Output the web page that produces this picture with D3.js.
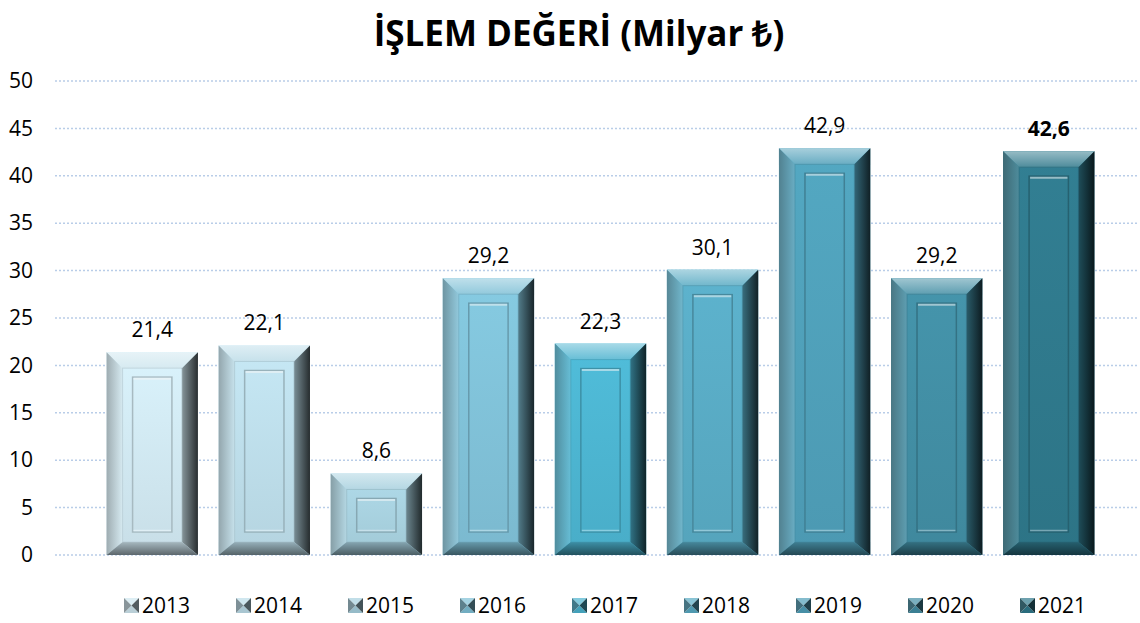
<!DOCTYPE html>
<html><head><meta charset="utf-8">
<script src="https://cdn.jsdelivr.net/npm/d3@7"></script>
<style>body{margin:0;background:#fff}svg{display:block}</style>
</head><body><svg id="c" width="1140" height="623"></svg>
<script>
const years = ["2013","2014","2015","2016","2017","2018","2019","2020","2021"];
const values = [21.4,22.1,8.6,29.2,22.3,30.1,42.9,29.2,42.6];
const labels = ["21,4","22,1","8,6","29,2","22,3","30,1","42,9","29,2","42,6"];
const colors = ["#cfe6ef","#bcdce8","#a7d0de","#7fc0d6","#4cb3cf","#58aac3","#4f9fb8","#418da3","#2f788b"];
const yTicks = [0,5,10,15,20,25,30,35,40,45,50];
const title = "İŞLEM DEĞERİ (Milyar ₺)";
const font = "'Open Sans', sans-serif";

const svg = d3.select("#c");
const defs = svg.append("defs");
const x = d3.scaleBand().domain(years).range([96.5,1104.5]).paddingInner(0.185).paddingOuter(0.09);
const y = d3.scaleLinear().domain([0,50]).range([555,81]);

svg.append("text").attr("x",579).attr("y",46).attr("text-anchor","middle")
  .attr("font-family",font).attr("font-weight","bold").attr("font-size",35).attr("fill","#000").text(title);

// grid
svg.append("g").selectAll("line").data(yTicks).join("line")
  .attr("x1",55).attr("x2",1139).attr("y1",d=>y(d)).attr("y2",d=>y(d))
  .attr("stroke","#b9cde8").attr("stroke-width",1.5).attr("stroke-dasharray","2,2");

// y axis labels
const ax = d3.axisLeft(y).tickValues(yTicks).tickSize(0).tickPadding(0);
const gA = svg.append("g").attr("transform","translate(33,0)").call(ax);
gA.select(".domain").remove();
gA.selectAll("text").attr("font-family",font).attr("font-size",21).attr("fill","#000");

function grad(id, c1, c2, vertical){
  const g = defs.append("linearGradient").attr("id",id)
    .attr("x1",0).attr("y1",0).attr("x2",vertical?0:1).attr("y2",vertical?1:0);
  g.append("stop").attr("offset","0%").attr("stop-color",c1);
  g.append("stop").attr("offset","100%").attr("stop-color",c2);
}

const bw = x.bandwidth();
years.forEach((yr,i)=>{
  const c = d3.color(colors[i]);
  const x0 = x(yr), x1 = x0+bw, y0 = y(values[i]), y1 = y(0);
  const b = Math.min(16, (y1-y0)/3);
  const bb = Math.min(13,(y1-y0)/3);
  const g = svg.append("g");
  grad("f"+i, c.brighter(0.15).formatHex(), c.darker(0.1).formatHex(), true);
  grad("l"+i, d3.interpolateRgb(c,"#555")(0.4), d3.interpolateRgb(c,"#fff")(0.15), false);
  grad("r"+i, d3.interpolateRgb(c,"#000")(0.35), d3.interpolateRgb(c,"#000")(0.8), false);
  grad("t"+i, d3.interpolateRgb(c,"#fff")(0.5), d3.interpolateRgb(c,"#fff")(0.15), true);
  grad("b"+i, d3.interpolateRgb(c,"#000")(0.2), d3.interpolateRgb(c,"#000")(0.55), true);
  g.append("rect").attr("x",x0).attr("y",y0).attr("width",bw).attr("height",y1-y0).attr("fill",`url(#f${i})`);
  const P = (pts,f)=>g.append("polygon").attr("points",pts.map(p=>p.join(",")).join(" ")).attr("fill",f);
  P([[x0,y0],[x1,y0],[x1-b,y0+b],[x0+b,y0+b]],`url(#t${i})`);
  P([[x0,y0],[x0+b,y0+b],[x0+b,y1-bb],[x0,y1]],`url(#l${i})`);
  P([[x1,y0],[x1,y1],[x1-b,y1-bb],[x1-b,y0+b]],`url(#r${i})`);
  P([[x0,y1],[x0+b,y1-bb],[x1-b,y1-bb],[x1,y1]],`url(#b${i})`);
  g.append("rect").attr("x",x0+b).attr("y",y0+b).attr("width",bw-2*b).attr("height",Math.max(0,y1-y0-b-bb))
    .attr("fill","none").attr("stroke",c.darker(0.4).formatHex()).attr("stroke-width",1).attr("opacity",0.6);
  const ix = x0+26, iy = y0+25, iw = bw-52, ih = (y1-23)-(y0+25);
  if(ih>4){
    g.append("rect").attr("x",ix).attr("y",iy).attr("width",iw).attr("height",ih)
      .attr("fill","none").attr("stroke",c.darker(0.6).formatHex()).attr("stroke-width",1.5);
    g.append("line").attr("x1",ix+1).attr("x2",ix+iw-1).attr("y1",iy+1.5).attr("y2",iy+1.5)
      .attr("stroke",d3.interpolateRgb(c,"#fff")(0.5)).attr("stroke-width",2);
    g.append("line").attr("x1",ix+1).attr("x2",ix+iw-1).attr("y1",iy+ih-1.5).attr("y2",iy+ih-1.5)
      .attr("stroke",d3.interpolateRgb(c,"#fff")(0.35)).attr("stroke-width",1.5);
  }
  svg.append("text").attr("x",x0+bw/2).attr("y",y0-15).attr("text-anchor","middle")
    .attr("font-family",font).attr("font-size",21).attr("font-weight",i===8?"bold":"normal")
    .attr("fill","#000").text(labels[i]);
});

// legend
const lg = svg.append("g");
years.forEach((yr,i)=>{
  const c = d3.color(colors[i]);
  const lx = 124 + i*112, ly = 598, s = 15;
  const g = lg.append("g");
  const P = (pts,f)=>g.append("polygon").attr("points",pts.map(p=>p.join(",")).join(" ")).attr("fill",f);
  const cx = lx+s/2, cy = ly+s/2;
  P([[lx,ly],[lx+s,ly],[cx,cy]], d3.interpolateRgb(c,"#fff")(0.3));
  P([[lx,ly+s],[lx+s,ly+s],[cx,cy]], d3.interpolateRgb(c,"#000")(0.1));
  P([[lx,ly],[lx,ly+s],[cx,cy]], d3.interpolateRgb(c,"#333")(0.45));
  P([[lx+s,ly],[lx+s,ly+s],[cx,cy]], d3.interpolateRgb(c,"#000")(0.6));
  g.append("text").attr("x",lx+18).attr("y",ly+15).attr("font-family",font).attr("font-size",21)
    .attr("fill","#000").text(yr);
});
</script></body></html>
